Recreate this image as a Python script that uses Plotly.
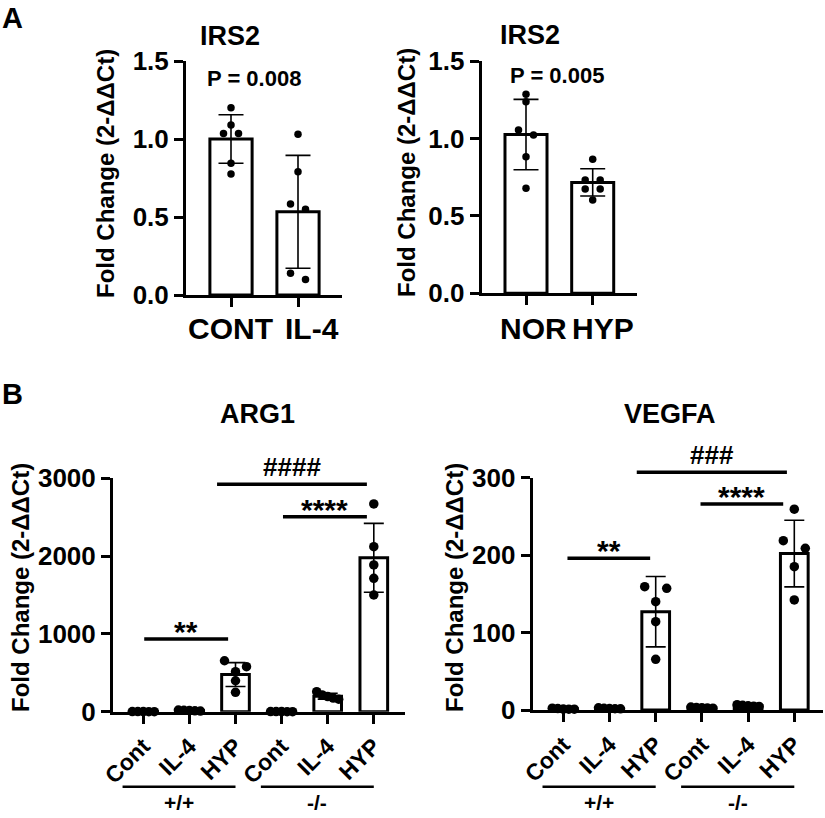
import plotly.graph_objects as go

W, H = 825, 818

# ---------------- data ----------------
irs2_il4_groups = ["CONT", "IL-4"]
irs2_il4_mean = [1.00, 0.533]
irs2_il4_sd = [0.155, 0.362]
irs2_il4_points = [
    [1.20, 1.09, 1.036, 1.036, 0.844, 0.776],
    [1.03, 0.79, 0.583, 0.55, 0.139, 0.10],
]
irs2_il4_p = "P = 0.008"

irs2_hyp_groups = ["NOR", "HYP"]
irs2_hyp_mean = [1.025, 0.716]
irs2_hyp_sd = [0.227, 0.088]
irs2_hyp_points = [
    [1.285, 1.237, 1.054, 1.022, 0.882, 0.678],
    [0.865, 0.731, 0.731, 0.673, 0.673, 0.602],
]
irs2_hyp_p = "P = 0.005"

b_groups = ["Cont", "IL-4", "HYP", "Cont", "IL-4", "HYP"]
genotypes = ["+/+", "-/-"]

arg1_mean = [1, 15, 477, 1, 200, 1978]
arg1_sd = [0.5, 5, 154, 0.5, 38, 443]
arg1_points = [
    [1.2, 1.0, 1.0, 0.9, 0.8],
    [22, 18, 15, 12, 8],
    [655, 578, 514, 398, 249],
    [1.3, 1.1, 1.0, 0.8, 0.8],
    [257, 215, 195, 175, 160],
    [2670, 2121, 1886, 1715, 1500],
]
# comparisons: (line start, line end, height, label)
arg1_brackets = [(0.02, 1.84, 934, "**"), (1.6, 4.85, 2923, "####"), (3.03, 4.85, 2507, "****")]

vegfa_mean = [1.5, 2.0, 127, 3.0, 5.5, 202]
vegfa_sd = [0.6, 0.8, 45.5, 1.0, 1.2, 43]
vegfa_points = [
    [2.3, 1.8, 1.2, 1.0, 1.0],
    [2.8, 2.2, 1.9, 1.6, 1.5],
    [159.3, 157.2, 139.9, 114.1, 65.5],
    [3.8, 3.2, 3.0, 2.6, 2.4],
    [6.8, 6.0, 5.5, 5.0, 4.6],
    [259.3, 218.7, 208.9, 185.1, 142.1],
]
vegfa_brackets = [(0.09, 1.88, 196, "**"), (1.59, 4.84, 307, "###"), (2.97, 4.76, 266, "****")]

a_ticks = [0.0, 0.5, 1.0, 1.5]
arg1_ticks = [0, 1000, 2000, 3000]
vegfa_ticks = [0, 100, 200, 300]

ytitle = "Fold Change (2-ΔΔCt)"

# ---------------- style / layout ----------------
FONT = "Liberation Sans, Arial, sans-serif"
BLACK = "#000000"

panels = [
    dict(name="IRS2", groups=irs2_il4_groups, mean=irs2_il4_mean, sd=irs2_il4_sd,
         points=irs2_il4_points, ticks=a_ticks, tickfmt=".1f",
         xpx=(186, 342), ypx=(61, 295), c0=231, step=67, ymax=1.5,
         barw=0.63, cap=12.5, msize=7.5, row_gap=7, spacing=15, max_half=8,
         angle=0, xlabel_px=[230, 312], title_px=(230, 36), ytitle_px=(105, 173)),
    dict(name="IRS2", groups=irs2_hyp_groups, mean=irs2_hyp_mean, sd=irs2_hyp_sd,
         points=irs2_hyp_points, ticks=a_ticks, tickfmt=".1f",
         xpx=(481.7, 636.7), ypx=(61, 293.3), c0=526, step=66.7, ymax=1.5,
         barw=0.63, cap=12.5, msize=7.5, row_gap=7, spacing=15, max_half=8,
         angle=0, xlabel_px=[533, 603], title_px=(530, 35), ytitle_px=(406, 173)),
    dict(name="ARG1", groups=b_groups, mean=arg1_mean, sd=arg1_sd,
         points=arg1_points, ticks=arg1_ticks, tickfmt="d",
         xpx=(113, 405), ypx=(478.3, 711.7), c0=143.3, step=46.1, ymax=3000,
         barw=0.6, cap=10, msize=9.5, row_gap=8.5, spacing=22, max_half=11,
         angle=-45, title_px=(257.5, 414), ytitle_px=(20, 588),
         brackets=arg1_brackets),
    dict(name="VEGFA", groups=b_groups, mean=vegfa_mean, sd=vegfa_sd,
         points=vegfa_points, ticks=vegfa_ticks, tickfmt="d",
         xpx=(532.7, 823), ypx=(477.7, 710), c0=563.3, step=46.2, ymax=300,
         barw=0.6, cap=10, msize=9.5, row_gap=8.5, spacing=22, max_half=11,
         angle=-45, title_px=(670, 414), ytitle_px=(454, 588),
         brackets=vegfa_brackets),
]


def fx(p):
    return p / W


def fy(p):
    return 1 - p / H


def bold(size):
    return dict(family=FONT, size=size, color=BLACK, weight="bold")


def swarm_offsets(values, px_per_unit, row_gap, spacing, max_half):
    """Prism-like scatter: points closer than row_gap px share a row, spread centred."""
    order = sorted(range(len(values)), key=lambda k: -values[k])
    rows = []
    for k in order:
        if rows and (values[rows[-1][0]] - values[k]) * px_per_unit < row_gap:
            rows[-1].append(k)
        else:
            rows.append([k])
    off = [0.0] * len(values)
    for r in rows:
        n = len(r)
        step = spacing
        if n > 1 and (n - 1) / 2 * spacing > max_half:
            step = 2 * max_half / (n - 1)
        for i, k in enumerate(r):
            off[k] = (i - (n - 1) / 2) * step
    return off


fig = go.Figure()
annotations = []
shapes = []
helper_n = len(panels)

for i, p in enumerate(panels):
    ax = "" if i == 0 else str(i + 1)
    xref, yref = "x" + ax, "y" + ax
    n = len(p["groups"])
    idx = list(range(n))
    x0px, x1px = p["xpx"]
    ytop, ybot = p["ypx"]
    xr = [(x0px - p["c0"]) / p["step"], (x1px - p["c0"]) / p["step"]]
    ypx_per_unit = (ybot - ytop) / p["ymax"]

    fig.add_trace(go.Bar(
        x=idx, y=p["mean"], width=p["barw"], xaxis=xref, yaxis=yref,
        marker=dict(color="white", line=dict(color=BLACK, width=3)),
        error_y=dict(type="data", array=p["sd"], visible=True, color=BLACK,
                     thickness=1.6, width=p["cap"]),
        showlegend=False, hoverinfo="skip", cliponaxis=False,
    ))
    xs, ys = [], []
    for g in idx:
        vals = p["points"][g]
        offs = swarm_offsets(vals, ypx_per_unit, p["row_gap"], p["spacing"], p["max_half"])
        for v, o in zip(vals, offs):
            xs.append(g + o / p["step"])
            ys.append(v)
    fig.add_trace(go.Scatter(
        x=xs, y=ys, mode="markers", xaxis=xref, yaxis=yref,
        marker=dict(color=BLACK, size=p["msize"], line=dict(width=0)),
        showlegend=False, hoverinfo="skip", cliponaxis=False,
    ))

    rotated = p["angle"] != 0
    fig.layout["xaxis" + ax] = dict(
        domain=[fx(x0px), fx(x1px)], range=xr, anchor=yref,
        showline=True, linecolor=BLACK, linewidth=3, showgrid=False, zeroline=False,
        ticks="outside", ticklen=9, tickwidth=3, tickcolor=BLACK,
        tickvals=idx, ticktext=p["groups"], tickangle=p["angle"],
        showticklabels=rotated,
        tickfont=bold(23),
        automargin=False, fixedrange=True,
    )
    fig.layout["yaxis" + ax] = dict(
        domain=[fy(ybot), fy(ytop)], range=[0, p["ymax"]], anchor=xref,
        showline=True, linecolor=BLACK, linewidth=3, showgrid=False, zeroline=False,
        ticks="outside", ticklen=9, tickwidth=3, tickcolor=BLACK,
        tickvals=p["ticks"], tickformat=p["tickfmt"],
        tickfont=bold(26),
        automargin=False, fixedrange=True,
    )

    if not rotated:
        for gname, lx in zip(p["groups"], p["xlabel_px"]):
            annotations.append(dict(x=fx(lx), y=fy(328), xref="paper", yref="paper", text=gname,
                                    showarrow=False, xanchor="center", yanchor="middle",
                                    font=bold(30)))

    tx, ty = p["title_px"]
    annotations.append(dict(x=fx(tx), y=fy(ty), xref="paper", yref="paper", text=p["name"],
                            showarrow=False, xanchor="center", yanchor="middle", font=bold(27)))
    yx, yy = p["ytitle_px"]
    annotations.append(dict(x=fx(yx), y=fy(yy), xref="paper", yref="paper", text=ytitle,
                            showarrow=False, textangle=-90, xanchor="center", yanchor="middle",
                            font=bold(24)))

    if p.get("brackets"):
        # hidden helper y-axis sharing this panel's scale but reaching higher,
        # so comparison bars above the top tick are not clipped
        helper_n += 1
        hax = str(helper_n)
        ext = 1.25
        fig.layout["yaxis" + hax] = dict(
            domain=[fy(ybot), fy(ybot - (ybot - ytop) * ext)], range=[0, p["ymax"] * ext],
            anchor=xref, visible=False, fixedrange=True,
        )
        for (b0, b1, h, lab) in p["brackets"]:
            fig.add_trace(go.Scatter(
                x=[b0, b1], y=[h, h], mode="lines", xaxis=xref, yaxis="y" + hax,
                line=dict(color=BLACK, width=3.5), showlegend=False, hoverinfo="skip",
            ))
            is_star = "*" in lab
            annotations.append(dict(x=(b0 + b1) / 2, y=h, xref=xref, yref="y" + hax, text=lab,
                                    showarrow=False, xanchor="center", yanchor="bottom",
                                    yshift=-11 if is_star else 0,
                                    font=bold(30 if is_star else 26)))

    if rotated:
        for gi, gname in enumerate(genotypes):
            first = gi * 3
            l0, l1 = first - 0.45, first + 2.0
            shapes.append(dict(type="line", xref=xref, yref="paper", x0=l0, x1=l1,
                               y0=fy(786.7), y1=fy(786.7), line=dict(color=BLACK, width=2.5)))
            annotations.append(dict(x=(l0 + l1) / 2, y=fy(802), xref=xref, yref="paper",
                                    text=gname, showarrow=False, xanchor="center",
                                    yanchor="middle", font=bold(21)))

# p-values
annotations.append(dict(x=fx(254), y=fy(78.5), xref="paper", yref="paper", text=irs2_il4_p,
                        showarrow=False, xanchor="center", yanchor="middle", font=bold(22)))
annotations.append(dict(x=fx(556.7), y=fy(75.5), xref="paper", yref="paper", text=irs2_hyp_p,
                        showarrow=False, xanchor="center", yanchor="middle", font=bold(22)))
# panel letters
for lab, (lx, ly) in [("A", (12, 18)), ("B", (12, 393.5))]:
    annotations.append(dict(x=fx(lx), y=fy(ly), xref="paper", yref="paper", text=lab,
                            showarrow=False, xanchor="center", yanchor="middle", font=bold(29)))

fig.update_layout(
    width=W, height=H, margin=dict(l=0, r=0, t=0, b=0),
    paper_bgcolor="white", plot_bgcolor="rgba(0,0,0,0)", template="none",
    annotations=annotations, shapes=shapes, showlegend=False, barmode="overlay",
)

fig.write_html("out.html", config={"displayModeBar": False},
               post_script="document.body.style.margin='0px';")
